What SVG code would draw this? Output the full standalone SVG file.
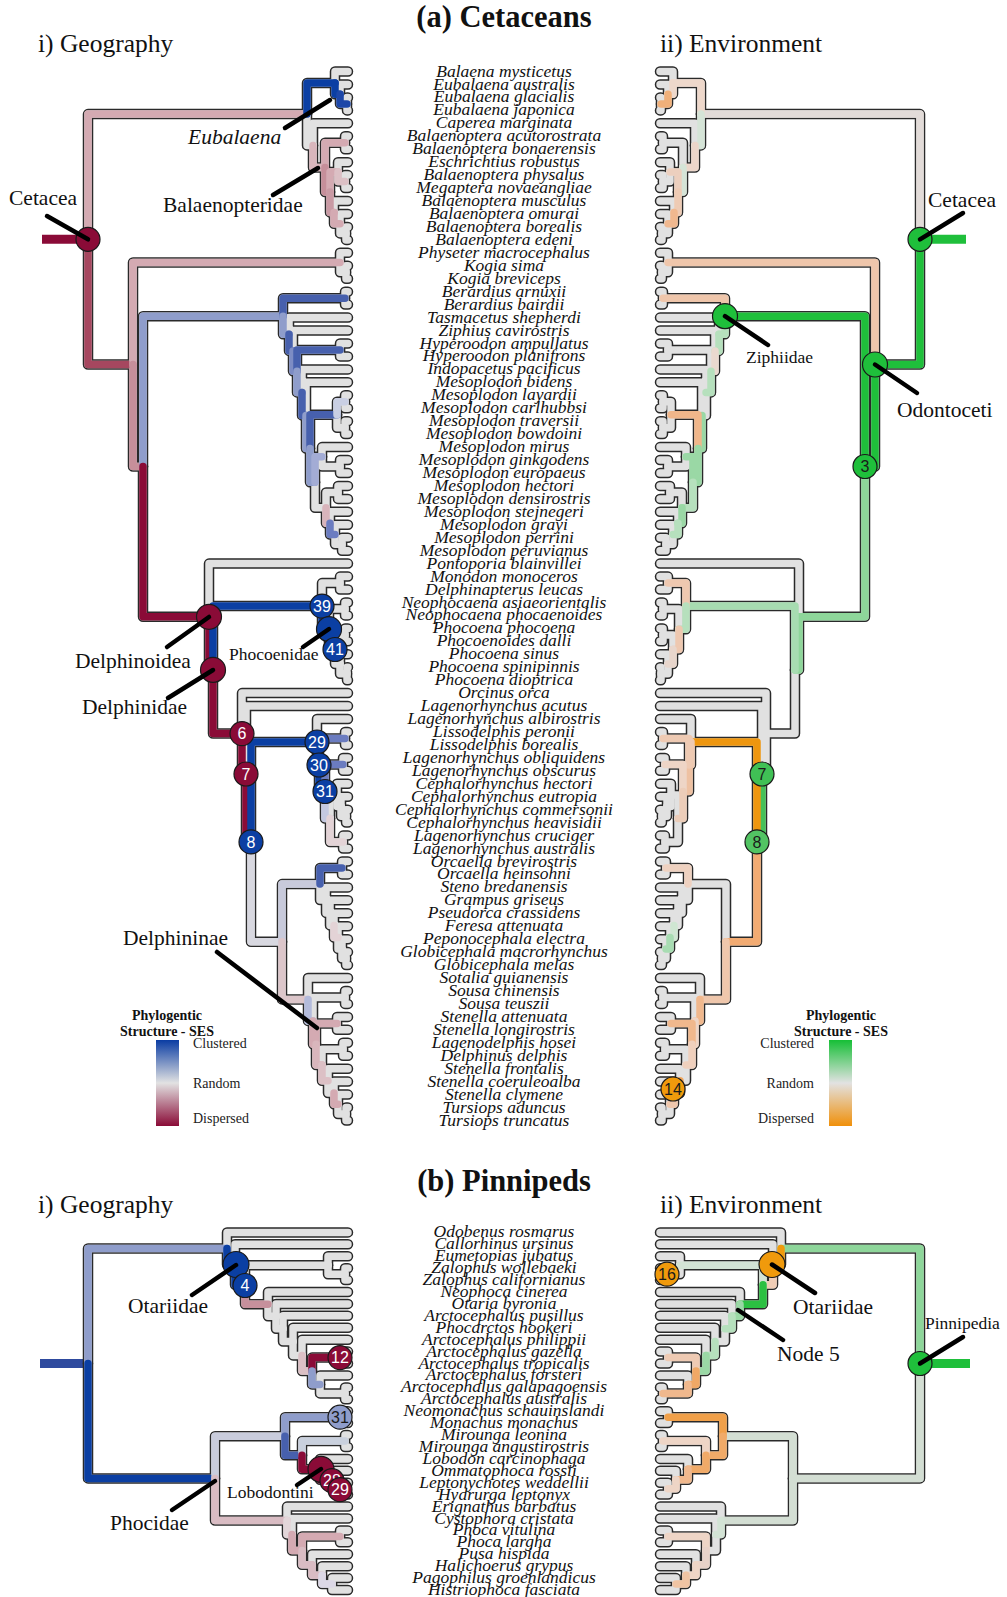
<svg xmlns="http://www.w3.org/2000/svg" xmlns:xlink="http://www.w3.org/1999/xlink" width="1007" height="1597" viewBox="0 0 1007 1597">
<style>
.ol{fill:none;stroke:#2a2a2a;stroke-width:10.5;stroke-linecap:round;stroke-linejoin:round}
.fl{fill:none;stroke:#e1e1e1;stroke-width:7.5;stroke-linecap:round;stroke-linejoin:round}
.ov{fill:none;stroke-width:7.5;stroke-linecap:round;stroke-linejoin:round}
.stem{fill:none;stroke-width:9}
.sp{font-family:"Liberation Serif",serif;font-style:italic;font-size:17.5px;text-anchor:middle;fill:#111}
.ttl{font-family:"Liberation Serif",serif;font-weight:bold;font-size:30.5px;text-anchor:middle;fill:#111}
.sub{font-family:"Liberation Serif",serif;font-size:25.5px;fill:#111}
.lb{font-family:"Liberation Serif",serif;font-size:21.5px;fill:#111}
.lbs{font-family:"Liberation Serif",serif;font-size:17.5px;fill:#111}
.ld{stroke:#000;stroke-width:4.5;stroke-linecap:round}
.nc{stroke:#1a1a1a;stroke-width:1.2}
.nt{font-family:"Liberation Sans",sans-serif;font-size:16px;text-anchor:middle}
.lg{font-family:"Liberation Serif",serif;font-size:14px;fill:#222}
.lgt{font-family:"Liberation Serif",serif;font-size:14px;font-weight:bold;text-anchor:middle;fill:#111}
</style>
<defs>
<linearGradient id="gGeo" x1="0" y1="0" x2="0" y2="1"><stop offset="0" stop-color="#0a3ca3"/><stop offset="0.5" stop-color="#e2e2e2"/><stop offset="1" stop-color="#8a0b37"/></linearGradient>
<linearGradient id="gEnv" x1="0" y1="0" x2="0" y2="1"><stop offset="0" stop-color="#16bf36"/><stop offset="0.5" stop-color="#e2e2e2"/><stop offset="1" stop-color="#f0900a"/></linearGradient>
<g id="cet">
<path id="cM" d="M88 239.3V114.1H307"/>
<path id="cO" d="M88 239.3V364.5H133"/>
<path id="cBd" d="M307 114.1V82.9H335"/>
<path id="cP" d="M307 114.1V145.4H313"/>
<path id="cEub" d="M335 82.9V94.2H340"/>
<path id="cEub2" d="M340 94.2V103.9H347"/>
<path id="cB1" d="M313 145.4V167.5H325"/>
<path id="cMk" d="M325 167.5V142.8H345"/>
<path id="cB2" d="M325 167.5V192.1H330"/>
<path id="cB3" d="M330 192.1V171.9H338"/>
<path id="cB4" d="M330 192.1V212.4H334"/>
<path id="cPm" d="M338 171.9V181.6H345"/>
<path id="cB5" d="M334 212.4V223.7H340"/>
<path id="cB6" d="M340 223.7V233.4H346"/>
<path id="cPh" d="M133 364.5V262.5H340"/>
<path id="cX" d="M133 364.5V466.5H143"/>
<path id="cK" d="M340 262.5V272.2H346"/>
<path id="cZ1" d="M143 466.5V316.2H283"/>
<path id="cN1" d="M143 466.5V616.8H209"/>
<path id="cBe" d="M283 316.2V298.2H345"/>
<path id="cZ2" d="M283 316.2V334.3H289"/>
<path id="cZ3" d="M289 334.3V350.9H293"/>
<path id="cZ4" d="M293 350.9V371.2H297"/>
<path id="cHy" d="M297 371.2V350H340"/>
<path id="cZ5" d="M297 371.2V392.4H302"/>
<path id="cZ6" d="M302 392.4V415.4H306"/>
<path id="cZ7" d="M306 415.4V448.5H310"/>
<path id="cMa" d="M310 448.5V414.7H337"/>
<path id="cMa1" d="M337 414.7V401.8H345"/>
<path id="cMa2" d="M337 414.7V427.7H345"/>
<path id="cMb" d="M310 448.5V482.3H315"/>
<path id="cMc" d="M315 482.3V456.8H322"/>
<path id="cMc2" d="M322 456.8V466.5H340"/>
<path id="cMd" d="M315 482.3V507.8H326"/>
<path id="cMe" d="M326 507.8V492.4H338"/>
<path id="cMf" d="M326 507.8V523.2H330"/>
<path id="cMg" d="M330 523.2V534.5H335"/>
<path id="cMh" d="M335 534.5V544.2H342"/>
<path id="cN2" d="M209 616.8V669.9H213"/>
<path id="cMP" d="M213 669.9V606.1H322"/>
<path id="cD6" d="M213 669.9V733.6H242"/>
<path id="cMo" d="M322 606.1V583.1H340"/>
<path id="cPc" d="M322 606.1V629.2H329"/>
<path id="cNe" d="M329 629.2V609H345"/>
<path id="cP41" d="M329 629.2V649.5H335"/>
<path id="cPA" d="M335 649.5V634.9H345"/>
<path id="cPB" d="M335 649.5V664H340"/>
<path id="cPC" d="M340 664V673.7H347"/>
<path id="cD7" d="M242 733.6V774H246"/>
<path id="cD8" d="M246 774V841.9H251"/>
<path id="cN29" d="M251 841.9V742H317"/>
<path id="cZ2d" d="M251 841.9V941.8H282"/>
<path id="cN30" d="M317 742V765H319"/>
<path id="cLi" d="M319 765V738.5H345"/>
<path id="cN31" d="M319 765V791.5H325"/>
<path id="cOb" d="M325 791.5V764.4H343"/>
<path id="cR" d="M325 791.5V818.6H330"/>
<path id="cC1" d="M330 818.6V795.1H337"/>
<path id="cC2" d="M337 795.1V806.5H341"/>
<path id="cC3" d="M341 806.5V816.2H346"/>
<path id="cLC" d="M330 818.6V842.1H343"/>
<path id="cG" d="M282 941.8V884.1H320"/>
<path id="cD" d="M282 941.8V999.4H308"/>
<path id="cOc" d="M320 884.1V868H342"/>
<path id="cR3" d="M320 884.1V900.1H326"/>
<path id="cR4" d="M326 900.1V912.9H330"/>
<path id="cR5" d="M330 912.9V925.4H334"/>
<path id="cR6" d="M334 925.4V937.6H338"/>
<path id="cR7" d="M338 937.6V948.9H342"/>
<path id="cR8" d="M342 948.9V958.6H346"/>
<path id="cD2" d="M308 999.4V1020.9H313"/>
<path id="cSo" d="M313 1020.9V997.5H345"/>
<path id="cD3" d="M313 1020.9V1044.2H316"/>
<path id="cSa" d="M316 1044.2V1023.4H337"/>
<path id="cD4" d="M316 1044.2V1065H322"/>
<path id="cD5" d="M322 1065V1049.3H343"/>
<path id="cD6b" d="M322 1065V1080.8H328"/>
<path id="cD7b" d="M328 1080.8V1093H334"/>
<path id="cD8b" d="M334 1093V1104.3H338"/>
<path id="cT" d="M338 1104.3V1114H346"/>
<path id="cLeaves" d="M335 82.9V71.5H348M340 94.2V84.5H348M347 103.9V97.4H348M347 103.9V110.4H348M313 145.4V123.3H348M345 142.8V136.3H348M345 142.8V149.2H348M338 171.9V162.2H348M345 181.6V175.1H348M345 181.6V188.1H348M334 212.4V201H348M340 223.7V214H348M346 233.4V226.9H348M346 233.4V239.9H348M340 262.5V252.8H348M346 272.2V265.8H348M346 272.2V278.7H348M345 298.2V291.7H348M345 298.2V304.6H348M289 334.3V317.6H348M293 350.9V330.5H348M340 350V343.5H348M340 350V356.4H348M302 392.4V369.4H348M306 415.4V382.3H348M345 401.8V395.3H348M345 401.8V408.2H348M345 427.7V421.2H348M345 427.7V434.1H348M322 456.8V447.1H348M340 466.5V460H348M340 466.5V473H348M338 492.4V485.9H348M338 492.4V498.9H348M330 523.2V511.8H348M335 534.5V524.8H348M342 544.2V537.7H348M342 544.2V550.7H348M209 616.8V563.6H348M340 583.1V576.6H348M340 583.1V589.5H348M345 609V602.5H348M345 609V615.4H348M345 634.9V628.4H348M345 634.9V641.3H348M340 664V654.3H348M347 673.7V667.2H348M347 673.7V680.2H348M242 733.6V693.1H348M246 774V706.1H348M317 742V719H348M345 738.5V732H348M345 738.5V744.9H348M343 764.4V757.9H348M343 764.4V770.8H348M337 795.1V783.8H348M341 806.5V796.7H348M346 816.2V809.7H348M346 816.2V822.6H348M343 842.1V835.6H348M343 842.1V848.5H348M342 868V861.5H348M342 868V874.4H348M326 900.1V887.4H348M330 912.9V900.3H348M334 925.4V913.3H348M338 937.6V926.2H348M342 948.9V939.2H348M346 958.6V952.1H348M346 958.6V965.1H348M308 999.4V978H348M345 997.5V991H348M345 997.5V1003.9H348M337 1023.4V1016.9H348M337 1023.4V1029.8H348M343 1049.3V1042.8H348M343 1049.3V1055.7H348M328 1080.8V1068.7H348M334 1093V1081.6H348M338 1104.3V1094.6H348M346 1114V1107.5H348M346 1114V1120.5H348"/>
</g>
<g id="pin">
<path id="pOa" d="M88 1363.5V1248.5H227"/>
<path id="pPd" d="M88 1363.5V1478.4H215"/>
<path id="pOt" d="M227 1248.5V1264.5H235"/>
<path id="pN4" d="M235 1264.5V1284.7H245"/>
<path id="pA" d="M245 1284.7V1265.2H328"/>
<path id="pZp" d="M328 1265.2V1274.2H345"/>
<path id="pB" d="M245 1284.7V1304.2H268"/>
<path id="pNot" d="M268 1304.2V1316.3H276"/>
<path id="pNpu" d="M276 1316.3V1328.7H283"/>
<path id="pNhk" d="M283 1328.7V1341.6H293"/>
<path id="pNph" d="M293 1341.6V1355.4H302"/>
<path id="pAr" d="M302 1355.4V1371H312"/>
<path id="pN12" d="M312 1371V1357.6H340"/>
<path id="pAf" d="M312 1371V1384.4H320"/>
<path id="pAg" d="M320 1384.4V1393.4H345"/>
<path id="pMo" d="M215 1478.4V1436.2H285"/>
<path id="pPi" d="M215 1478.4V1520.6H287"/>
<path id="pMn" d="M285 1436.2V1417.2H340"/>
<path id="pM2" d="M285 1436.2V1455.2H302"/>
<path id="pMi" d="M302 1455.2V1441H345"/>
<path id="pL" d="M302 1455.2V1469.3H320"/>
<path id="pL28" d="M320 1469.3V1479.7H332"/>
<path id="pL29" d="M332 1479.7V1488.7H340"/>
<path id="pP2" d="M287 1520.6V1534.6H292"/>
<path id="pP3" d="M292 1534.6V1550.6H302"/>
<path id="pPp" d="M302 1550.6V1536.4H340"/>
<path id="pP4" d="M302 1550.6V1564.7H312"/>
<path id="pP5" d="M312 1564.7V1575.2H322"/>
<path id="pP6" d="M322 1575.2V1584.1H332"/>
<path id="pLeaves" d="M227 1248.5V1232.4H348M235 1264.5V1244.3H348M328 1265.2V1256.2H348M345 1274.2V1268.2H348M345 1274.2V1280.1H348M268 1304.2V1292H348M276 1316.3V1303.9H348M283 1328.7V1315.8H348M293 1341.6V1327.8H348M302 1355.4V1339.7H348M340 1357.6V1351.6H348M340 1357.6V1363.5H348M320 1384.4V1375.4H348M345 1393.4V1387.4H348M345 1393.4V1399.3H348M340 1417.2V1411.2H348M340 1417.2V1423.1H348M345 1441V1435H348M345 1441V1447H348M320 1469.3V1458.9H348M332 1479.7V1470.8H348M340 1488.7V1482.7H348M340 1488.7V1494.6H348M287 1520.6V1506.6H348M292 1534.6V1518.5H348M340 1536.4V1530.4H348M340 1536.4V1542.3H348M312 1564.7V1554.2H348M322 1575.2V1566.2H348M332 1584.1V1578.1H348M332 1584.1V1590H348"/>
</g>
</defs>
<rect width="1007" height="1597" fill="#fff"/>

<!-- Titles -->
<text class="ttl" x="504" y="27">(a) Cetaceans</text>
<text class="sub" x="38" y="52">i) Geography</text>
<text class="sub" x="660" y="52">ii) Environment</text>
<text class="ttl" x="504" y="1191">(b) Pinnipeds</text>
<text class="sub" x="38" y="1213">i) Geography</text>
<text class="sub" x="660" y="1213">ii) Environment</text>

<!-- connectors: cetacean geography tree -->
<g id="cet-geo-connectors">
<path class="stem" d="M42 239.3H88" stroke="#8a0b37"/>
<use href="#cet" class="ol"/>
<use href="#cet" class="fl"/>
<g class="ov">
<use href="#cM" stroke="#d4aab2"/><use href="#cO" stroke="#a6475f"/><use href="#cBd" stroke="#0b3fa3"/><use href="#cEub" stroke="#0b3fa3"/><use href="#cEub2" stroke="#1d47a8"/>
<use href="#cB1" stroke="#d9b6bc"/><use href="#cMk" stroke="#d4aab2"/><use href="#cB2" stroke="#c68f9a"/><use href="#cB3" stroke="#d4aab2"/><use href="#cB4" stroke="#c99aa4"/><use href="#cB5" stroke="#d4aab2"/><use href="#cPm" stroke="#dcc0c5"/>
<use href="#cPh" stroke="#d4aab2"/><use href="#cX" stroke="#c68f9a"/><use href="#cZ1" stroke="#8f9dcb"/><use href="#cN1" stroke="#8a0b37"/>
<use href="#cBe" stroke="#4760ad"/><use href="#cZ2" stroke="#8f9dcb"/><use href="#cZ3" stroke="#4760ad"/><use href="#cZ4" stroke="#7d8cc4"/><use href="#cHy" stroke="#4760ad"/><use href="#cZ5" stroke="#8f9dcb"/><use href="#cZ6" stroke="#4760ad"/><use href="#cZ7" stroke="#8f9dcb"/><use href="#cMa" stroke="#4760ad"/><use href="#cMa1" stroke="#c9cfe3"/><use href="#cMb" stroke="#8f9dcb"/><use href="#cMc" stroke="#a3acd5"/><use href="#cMf" stroke="#d8b4bb"/><use href="#cMg" stroke="#6b7cc0"/>
<use href="#cN2" stroke="#8a0b37"/><use href="#cMP" stroke="#0b3fa3"/><use href="#cPc" stroke="#0b3fa3"/><use href="#cP41" stroke="#0b3fa3"/>
<use href="#cD6" stroke="#8a0b37"/><use href="#cD7" stroke="#8a0b37"/><use href="#cD8" stroke="#8a0b37"/><use href="#cN29" stroke="#0b3fa3"/><use href="#cZ2d" stroke="#d8d8e0"/>
<use href="#cN30" stroke="#0b3fa3"/><use href="#cLi" stroke="#6b7cc0"/><use href="#cN31" stroke="#0b3fa3"/><use href="#cOb" stroke="#6b7cc0"/><use href="#cR" stroke="#c4c9e0"/><use href="#cLC" stroke="#e3d3d6"/>
<use href="#cG" stroke="#c8cadb"/><use href="#cOc" stroke="#4760ad"/><use href="#cR6" stroke="#e3d3d6"/>
<use href="#cD" stroke="#dcc6ca"/><use href="#cD2" stroke="#b3bbdb"/><use href="#cD3" stroke="#d4aab2"/><use href="#cSa" stroke="#d4aab2"/><use href="#cD4" stroke="#d9b6bc"/><use href="#cD6b" stroke="#dcc0c5"/><use href="#cD8b" stroke="#d4aab2"/>
</g>
</g>

<!-- connectors: cetacean environment tree (mirrored) -->
<g id="cet-env-connectors">
<path class="stem" d="M920 239.3H966" stroke="#1fbf3b"/>
<g transform="matrix(-1 0 0 1 1008 0)">
<use href="#cet" class="ol"/>
<use href="#cet" class="fl"/>
<g class="ov">
<use href="#cM" stroke="#e2dbd8"/><use href="#cO" stroke="#1fbf3b"/><use href="#cBd" stroke="#eed8cb"/><use href="#cEub" stroke="#eed8cb"/><use href="#cEub2" stroke="#f0b07a"/>
<use href="#cP" stroke="#d5e4d7"/><use href="#cB1" stroke="#ecd6ca"/><use href="#cB2" stroke="#d5e4d7"/><use href="#cB3" stroke="#eccfbe"/><use href="#cB4" stroke="#eecbb4"/><use href="#cB5" stroke="#f0b88f"/>
<use href="#cPh" stroke="#efc6ab"/><use href="#cX" stroke="#1fbf3b"/><use href="#cZ1" stroke="#1fbf3b"/><use href="#cN1" stroke="#8ed69a"/>
<use href="#cBe" stroke="#efc6ab"/><use href="#cZ2" stroke="#b6e0bd"/><use href="#cZ3" stroke="#b6e0bd"/><use href="#cZ4" stroke="#ead9cf"/><use href="#cZ5" stroke="#b6e0bd"/><use href="#cZ7" stroke="#9ad8a5"/><use href="#cMa" stroke="#f0b68a"/><use href="#cMb" stroke="#9ad8a5"/><use href="#cMc" stroke="#9ad8a5"/><use href="#cMd" stroke="#b6e0bd"/><use href="#cMf" stroke="#9ad8a5"/><use href="#cMg" stroke="#b6e0bd"/>
<use href="#cN2" stroke="#8ed69a"/><use href="#cMP" stroke="#a7dcb1"/><use href="#cMo" stroke="#eec8b0"/><use href="#cPc" stroke="#b6e0bd"/><use href="#cP41" stroke="#eec8b0"/><use href="#cPB" stroke="#e8d6cc"/>
<use href="#cD8" stroke="#45c058"/><use href="#cN29" stroke="#ee960f"/><use href="#cZ2d" stroke="#f2ab72"/>
<use href="#cN30" stroke="#eecab3"/><use href="#cN31" stroke="#eec1a2"/><use href="#cLi" stroke="#eecab3"/><use href="#cOb" stroke="#eed5c6"/><use href="#cR" stroke="#eccdb9"/>
<use href="#cOc" stroke="#eed1c0"/><use href="#cR6" stroke="#cfe6d2"/><use href="#cR7" stroke="#a8dcb2"/>
<use href="#cD" stroke="#efc7ac"/><use href="#cD2" stroke="#f0b88d"/><use href="#cD3" stroke="#eed5c6"/><use href="#cSa" stroke="#f0b88d"/><use href="#cD4" stroke="#efd0bd"/><use href="#cD7b" stroke="#f0a860"/><use href="#cD8b" stroke="#efc7ac"/>
</g>
</g>
</g>

<!-- connectors: pinniped geography tree -->
<g id="pin-geo-connectors">
<path class="stem" d="M40 1363.5H88" stroke="#2e4a9e"/>
<use href="#pin" class="ol"/>
<use href="#pin" class="fl"/>
<g class="ov">
<use href="#pOa" stroke="#8f9dcb"/><use href="#pPd" stroke="#0b3fa3"/><use href="#pOt" stroke="#0b3fa3"/><use href="#pN4" stroke="#0b3fa3"/><use href="#pB" stroke="#c6909c"/><use href="#pAr" stroke="#dcc0c5"/><use href="#pN12" stroke="#8a0b37"/><use href="#pAf" stroke="#8f9dcb"/>
<use href="#pMo" stroke="#c9ccdc"/><use href="#pPi" stroke="#d9bcc3"/><use href="#pMn" stroke="#8f9dcb"/><use href="#pM2" stroke="#4760ad"/><use href="#pMi" stroke="#c9d0dd"/><use href="#pL" stroke="#8a0b37"/><use href="#pL28" stroke="#8a0b37"/><use href="#pL29" stroke="#8a0b37"/>
<use href="#pP2" stroke="#e3d6d9"/><use href="#pP3" stroke="#d4aab2"/><use href="#pPp" stroke="#d4aab2"/><use href="#pP4" stroke="#d9bcc3"/><use href="#pP5" stroke="#d9bcc3"/><use href="#pP6" stroke="#dcd8e6"/>
</g>
</g>

<!-- connectors: pinniped environment tree (mirrored) -->
<g id="pin-env-connectors">
<path class="stem" d="M920 1363.5H970" stroke="#1fbf3b"/>
<g transform="matrix(-1 0 0 1 1008 0)">
<use href="#pin" class="ol"/>
<use href="#pin" class="fl"/>
<g class="ov">
<use href="#pOa" stroke="#8ed69a"/><use href="#pPd" stroke="#d3ded3"/><use href="#pOt" stroke="#f09a0c"/><use href="#pN4" stroke="#f0cdb6"/><use href="#pA" stroke="#d3e3d5"/><use href="#pB" stroke="#2cc042"/><use href="#pNot" stroke="#9ad8a5"/><use href="#pNpu" stroke="#b6e0bd"/><use href="#pNph" stroke="#b6e0bd"/><use href="#pAr" stroke="#9ad8a5"/><use href="#pN12" stroke="#eecab3"/><use href="#pAf" stroke="#f0a866"/><use href="#pAg" stroke="#f0b88d"/>
<use href="#pMo" stroke="#d3ded3"/><use href="#pPi" stroke="#d3ded3"/><use href="#pMn" stroke="#f0a04a"/><use href="#pM2" stroke="#f0aa68"/><use href="#pMi" stroke="#eed5c6"/><use href="#pL" stroke="#f0aa68"/><use href="#pL28" stroke="#f0b88d"/><use href="#pL29" stroke="#eed5c6"/>
<use href="#pP2" stroke="#d3e3d5"/><use href="#pPp" stroke="#eed5c6"/><use href="#pP4" stroke="#e8d2c8"/><use href="#pP5" stroke="#eed5c6"/><use href="#pP6" stroke="#f0c4a3"/>
</g>
</g>
</g>

<!-- nodes: cetacean geography -->
<g id="n-cet-geo-cetacea"><circle class="nc" cx="88" cy="239.3" r="12" fill="#8a0b37"/></g>
<g id="n-delphinoidea"><circle class="nc" cx="209" cy="616.8" r="12.5" fill="#8a0b37"/></g>
<g id="n-delphinidae"><circle class="nc" cx="213" cy="669.9" r="12.5" fill="#8a0b37"/></g>
<g id="n-geo-6"><circle class="nc" cx="242" cy="733.6" r="12" fill="#8a0b37"/><text class="nt" x="242" y="739.3" fill="#fff">6</text></g>
<g id="n-geo-7"><circle class="nc" cx="246" cy="774" r="12" fill="#8a0b37"/><text class="nt" x="246" y="779.7" fill="#fff">7</text></g>
<g id="n-geo-8"><circle class="nc" cx="251" cy="841.9" r="12" fill="#0b3fa3"/><text class="nt" x="251" y="847.6" fill="#fff">8</text></g>
<g id="n-geo-39"><circle class="nc" cx="322" cy="606.1" r="12" fill="#0b3fa3"/><text class="nt" x="322" y="611.8" fill="#fff">39</text></g>
<g id="n-phocoenidae"><circle class="nc" cx="329" cy="629.2" r="12.5" fill="#0b3fa3"/></g>
<g id="n-geo-41"><circle class="nc" cx="335" cy="649.5" r="12" fill="#0b3fa3"/><text class="nt" x="335" y="655.2" fill="#fff">41</text></g>
<g id="n-geo-29"><circle class="nc" cx="317" cy="742" r="12" fill="#0b3fa3"/><text class="nt" x="317" y="747.7" fill="#fff">29</text></g>
<g id="n-geo-30"><circle class="nc" cx="319" cy="765" r="12" fill="#0b3fa3"/><text class="nt" x="319" y="770.7" fill="#fff">30</text></g>
<g id="n-geo-31"><circle class="nc" cx="325" cy="791.5" r="12" fill="#0b3fa3"/><text class="nt" x="325" y="797.2" fill="#fff">31</text></g>

<!-- nodes: cetacean environment -->
<g id="n-cet-env-cetacea"><circle class="nc" cx="920" cy="239.3" r="12" fill="#1fbf3b"/></g>
<g id="n-ziphiidae"><circle class="nc" cx="725" cy="316.2" r="12.5" fill="#1fbf3b"/></g>
<g id="n-odontoceti"><circle class="nc" cx="875" cy="364.5" r="12.5" fill="#1fbf3b"/></g>
<g id="n-env-3"><circle class="nc" cx="865" cy="466.5" r="12" fill="#1fbf3b"/><text class="nt" x="865" y="472.2" fill="#1a1a1a">3</text></g>
<g id="n-env-7"><circle class="nc" cx="762" cy="774" r="12" fill="#40c055"/><text class="nt" x="762" y="779.7" fill="#1a1a1a">7</text></g>
<g id="n-env-8"><circle class="nc" cx="757" cy="841.9" r="12" fill="#52c463"/><text class="nt" x="757" y="847.6" fill="#1a1a1a">8</text></g>
<g id="n-env-14"><circle class="nc" cx="673" cy="1089" r="12" fill="#f09a0c"/><text class="nt" x="673" y="1094.7" fill="#1a1a1a">14</text></g>

<!-- nodes: pinnipeds -->
<g id="n-pin-geo-otariidae"><circle class="nc" cx="236" cy="1264.5" r="13" fill="#0b3fa3"/></g>
<g id="n-pin-geo-4"><circle class="nc" cx="245" cy="1285.5" r="12" fill="#0b3fa3"/><text class="nt" x="245" y="1291.2" fill="#fff">4</text></g>
<g id="n-pin-geo-12"><circle class="nc" cx="340" cy="1357.6" r="12" fill="#8a0b37"/><text class="nt" x="340" y="1363.3" fill="#fff">12</text></g>
<g id="n-pin-geo-31"><circle class="nc" cx="340" cy="1417.2" r="12" fill="#8f9dcb"/><text class="nt" x="340" y="1422.9" fill="#1a1a1a">31</text></g>
<g id="n-lobodontini"><circle class="nc" cx="321" cy="1469.3" r="13" fill="#8a0b37"/></g>
<g id="n-pin-geo-28"><circle class="nc" cx="332" cy="1480.7" r="12" fill="#8a0b37"/><text class="nt" x="332" y="1486.4" fill="#fff">28</text></g>
<g id="n-pin-geo-29"><circle class="nc" cx="340" cy="1489.7" r="12" fill="#8a0b37"/><text class="nt" x="340" y="1495.4" fill="#fff">29</text></g>
<g id="n-pinnipedia"><circle class="nc" cx="920" cy="1363.5" r="12" fill="#1fbf3b"/></g>
<g id="n-pin-env-otariidae"><circle class="nc" cx="772" cy="1264.5" r="13" fill="#f09a0c"/></g>
<g id="n-pin-env-16"><circle class="nc" cx="667" cy="1274.2" r="12" fill="#f09a0c"/><text class="nt" x="667" y="1279.9" fill="#1a1a1a">16</text></g>

<!-- leader lines -->
<g id="leaders">
<line class="ld" x1="47" y1="216" x2="88" y2="239.3"/>
<line class="ld" x1="285" y1="128" x2="330" y2="100"/>
<line class="ld" x1="273" y1="195" x2="318" y2="168"/>
<line class="ld" x1="167" y1="647" x2="209" y2="617"/>
<line class="ld" x1="168" y1="698" x2="213" y2="670"/>
<line class="ld" x1="303" y1="647" x2="329" y2="629"/>
<line class="ld" x1="217" y1="952" x2="317" y2="1028"/>
<line class="ld" x1="920" y1="239.3" x2="963" y2="213"/>
<line class="ld" x1="725" y1="316.2" x2="768" y2="345"/>
<line class="ld" x1="875" y1="364.5" x2="917" y2="393"/>
<line class="ld" x1="192" y1="1295" x2="236" y2="1265"/>
<line class="ld" x1="172" y1="1510" x2="215" y2="1481"/>
<line class="ld" x1="297" y1="1485" x2="321" y2="1469"/>
<line class="ld" x1="772" y1="1264.5" x2="815" y2="1293"/>
<line class="ld" x1="738" y1="1310" x2="783" y2="1340"/>
<line class="ld" x1="920" y1="1363.5" x2="963" y2="1337"/>
</g>

<!-- clade labels -->
<g id="labels">
<text class="lb" x="9" y="205">Cetacea</text>
<text class="lb" x="188" y="144" font-style="italic" font-size="22">Eubalaena</text>
<text class="lb" x="163" y="212" font-size="21">Balaenopteridae</text>
<text class="lb" x="75" y="668">Delphinoidea</text>
<text class="lb" x="82" y="714">Delphinidae</text>
<text class="lbs" x="229" y="660">Phocoenidae</text>
<text class="lb" x="123" y="945">Delphininae</text>
<text class="lb" x="928" y="207">Cetacea</text>
<text class="lbs" x="746" y="363" font-size="18.5">Ziphiidae</text>
<text class="lb" x="897" y="417" font-size="22">Odontoceti</text>
<text class="lb" x="128" y="1313">Otariidae</text>
<text class="lb" x="110" y="1530">Phocidae</text>
<text class="lbs" x="227" y="1498">Lobodontini</text>
<text class="lb" x="793" y="1314">Otariidae</text>
<text class="lb" x="777" y="1361">Node 5</text>
<text class="lbs" x="925" y="1329" font-size="19">Pinnipedia</text>
</g>

<!-- legends -->
<g id="legend-geo">
<text class="lgt" x="167" y="1020">Phylogentic</text>
<text class="lgt" x="167" y="1036">Structure - SES</text>
<rect x="156" y="1040" width="23" height="86" fill="url(#gGeo)"/>
<text class="lg" x="193" y="1048">Clustered</text>
<text class="lg" x="193" y="1088">Random</text>
<text class="lg" x="193" y="1123">Dispersed</text>
</g>
<g id="legend-env">
<text class="lgt" x="841" y="1020">Phylogentic</text>
<text class="lgt" x="841" y="1036">Structure - SES</text>
<rect x="829" y="1040" width="23" height="86" fill="url(#gEnv)"/>
<text class="lg" x="814" y="1048" text-anchor="end">Clustered</text>
<text class="lg" x="814" y="1088" text-anchor="end">Random</text>
<text class="lg" x="814" y="1123" text-anchor="end">Dispersed</text>
</g>

<!-- species names: cetaceans -->
<g id="cet-species">
<text class="sp" x="504" y="76.5">Balaena mysticetus</text>
<text class="sp" x="504" y="89.5">Eubalaena australis</text>
<text class="sp" x="504" y="102.4">Eubalaena glacialis</text>
<text class="sp" x="504" y="115.4">Eubalaena japonica</text>
<text class="sp" x="504" y="128.3">Caperea marginata</text>
<text class="sp" x="504" y="141.3">Balaenoptera acutorostrata</text>
<text class="sp" x="504" y="154.2">Balaenoptera bonaerensis</text>
<text class="sp" x="504" y="167.2">Eschrichtius robustus</text>
<text class="sp" x="504" y="180.1">Balaenoptera physalus</text>
<text class="sp" x="504" y="193.1">Megaptera novaeangliae</text>
<text class="sp" x="504" y="206">Balaenoptera musculus</text>
<text class="sp" x="504" y="219">Balaenoptera omurai</text>
<text class="sp" x="504" y="231.9">Balaenoptera borealis</text>
<text class="sp" x="504" y="244.9">Balaenoptera edeni</text>
<text class="sp" x="504" y="257.8">Physeter macrocephalus</text>
<text class="sp" x="504" y="270.8">Kogia sima</text>
<text class="sp" x="504" y="283.7">Kogia breviceps</text>
<text class="sp" x="504" y="296.7">Berardius arnuxii</text>
<text class="sp" x="504" y="309.6">Berardius bairdii</text>
<text class="sp" x="504" y="322.6">Tasmacetus shepherdi</text>
<text class="sp" x="504" y="335.5">Ziphius cavirostris</text>
<text class="sp" x="504" y="348.5">Hyperoodon ampullatus</text>
<text class="sp" x="504" y="361.4">Hyperoodon planifrons</text>
<text class="sp" x="504" y="374.4">Indopacetus pacificus</text>
<text class="sp" x="504" y="387.3">Mesoplodon bidens</text>
<text class="sp" x="504" y="400.3">Mesoplodon layardii</text>
<text class="sp" x="504" y="413.2">Mesoplodon carlhubbsi</text>
<text class="sp" x="504" y="426.2">Mesoplodon traversii</text>
<text class="sp" x="504" y="439.1">Mesoplodon bowdoini</text>
<text class="sp" x="504" y="452.1">Mesoplodon mirus</text>
<text class="sp" x="504" y="465">Mesoplodon ginkgodens</text>
<text class="sp" x="504" y="478">Mesoplodon europaeus</text>
<text class="sp" x="504" y="490.9">Mesoplodon hectori</text>
<text class="sp" x="504" y="503.9">Mesoplodon densirostris</text>
<text class="sp" x="504" y="516.8">Mesoplodon stejnegeri</text>
<text class="sp" x="504" y="529.8">Mesoplodon grayi</text>
<text class="sp" x="504" y="542.7">Mesoplodon perrini</text>
<text class="sp" x="504" y="555.7">Mesoplodon peruvianus</text>
<text class="sp" x="504" y="568.6">Pontoporia blainvillei</text>
<text class="sp" x="504" y="581.6">Monodon monoceros</text>
<text class="sp" x="504" y="594.5">Delphinapterus leucas</text>
<text class="sp" x="504" y="607.5">Neophocaena asiaeorientalis</text>
<text class="sp" x="504" y="620.4">Neophocaena phocaenoides</text>
<text class="sp" x="504" y="633.4">Phocoena phocoena</text>
<text class="sp" x="504" y="646.3">Phocoenoides dalli</text>
<text class="sp" x="504" y="659.3">Phocoena sinus</text>
<text class="sp" x="504" y="672.2">Phocoena spinipinnis</text>
<text class="sp" x="504" y="685.2">Phocoena dioptrica</text>
<text class="sp" x="504" y="698.1">Orcinus orca</text>
<text class="sp" x="504" y="711.1">Lagenorhynchus acutus</text>
<text class="sp" x="504" y="724">Lagenorhynchus albirostris</text>
<text class="sp" x="504" y="737">Lissodelphis peronii</text>
<text class="sp" x="504" y="749.9">Lissodelphis borealis</text>
<text class="sp" x="504" y="762.9">Lagenorhynchus obliquidens</text>
<text class="sp" x="504" y="775.8">Lagenorhynchus obscurus</text>
<text class="sp" x="504" y="788.8">Cephalorhynchus hectori</text>
<text class="sp" x="504" y="801.7">Cephalorhynchus eutropia</text>
<text class="sp" x="504" y="814.7">Cephalorhynchus commersonii</text>
<text class="sp" x="504" y="827.6">Cephalorhynchus heavisidii</text>
<text class="sp" x="504" y="840.6">Lagenorhynchus cruciger</text>
<text class="sp" x="504" y="853.5">Lagenorhynchus australis</text>
<text class="sp" x="504" y="866.5">Orcaella brevirostris</text>
<text class="sp" x="504" y="879.4">Orcaella heinsohni</text>
<text class="sp" x="504" y="892.4">Steno bredanensis</text>
<text class="sp" x="504" y="905.3">Grampus griseus</text>
<text class="sp" x="504" y="918.3">Pseudorca crassidens</text>
<text class="sp" x="504" y="931.2">Feresa attenuata</text>
<text class="sp" x="504" y="944.2">Peponocephala electra</text>
<text class="sp" x="504" y="957.1">Globicephala macrorhynchus</text>
<text class="sp" x="504" y="970.1">Globicephala melas</text>
<text class="sp" x="504" y="983">Sotalia guianensis</text>
<text class="sp" x="504" y="996">Sousa chinensis</text>
<text class="sp" x="504" y="1008.9">Sousa teuszii</text>
<text class="sp" x="504" y="1021.9">Stenella attenuata</text>
<text class="sp" x="504" y="1034.8">Stenella longirostris</text>
<text class="sp" x="504" y="1047.8">Lagenodelphis hosei</text>
<text class="sp" x="504" y="1060.7">Delphinus delphis</text>
<text class="sp" x="504" y="1073.7">Stenella frontalis</text>
<text class="sp" x="504" y="1086.6">Stenella coeruleoalba</text>
<text class="sp" x="504" y="1099.6">Stenella clymene</text>
<text class="sp" x="504" y="1112.5">Tursiops aduncus</text>
<text class="sp" x="504" y="1125.5">Tursiops truncatus</text>
</g>

<!-- species names: pinnipeds -->
<g id="pin-species">
<text class="sp" x="504" y="1237.4">Odobenus rosmarus</text>
<text class="sp" x="504" y="1249.3">Callorhinus ursinus</text>
<text class="sp" x="504" y="1261.2">Eumetopias jubatus</text>
<text class="sp" x="504" y="1273.2">Zalophus wollebaeki</text>
<text class="sp" x="504" y="1285.1">Zalophus californianus</text>
<text class="sp" x="504" y="1297">Neophoca cinerea</text>
<text class="sp" x="504" y="1308.9">Otaria byronia</text>
<text class="sp" x="504" y="1320.8">Arctocephalus pusillus</text>
<text class="sp" x="504" y="1332.8">Phocarctos hookeri</text>
<text class="sp" x="504" y="1344.7">Arctocephalus philippii</text>
<text class="sp" x="504" y="1356.6">Arctocephalus gazella</text>
<text class="sp" x="504" y="1368.5">Arctocephalus tropicalis</text>
<text class="sp" x="504" y="1380.4">Arctocephalus forsteri</text>
<text class="sp" x="504" y="1392.4">Arctocephalus galapagoensis</text>
<text class="sp" x="504" y="1404.3">Arctocephalus australis</text>
<text class="sp" x="504" y="1416.2">Neomonachus schauinslandi</text>
<text class="sp" x="504" y="1428.1">Monachus monachus</text>
<text class="sp" x="504" y="1440">Mirounga leonina</text>
<text class="sp" x="504" y="1452">Mirounga angustirostris</text>
<text class="sp" x="504" y="1463.9">Lobodon carcinophaga</text>
<text class="sp" x="504" y="1475.8">Ommatophoca rossii</text>
<text class="sp" x="504" y="1487.7">Leptonychotes weddellii</text>
<text class="sp" x="504" y="1499.6">Hydrurga leptonyx</text>
<text class="sp" x="504" y="1511.6">Erignathus barbatus</text>
<text class="sp" x="504" y="1523.5">Cystophora cristata</text>
<text class="sp" x="504" y="1535.4">Phoca vitulina</text>
<text class="sp" x="504" y="1547.3">Phoca largha</text>
<text class="sp" x="504" y="1559.2">Pusa hispida</text>
<text class="sp" x="504" y="1571.2">Halichoerus grypus</text>
<text class="sp" x="504" y="1583.1">Pagophilus groenlandicus</text>
<text class="sp" x="504" y="1595">Histriophoca fasciata</text>
</g>
</svg>
